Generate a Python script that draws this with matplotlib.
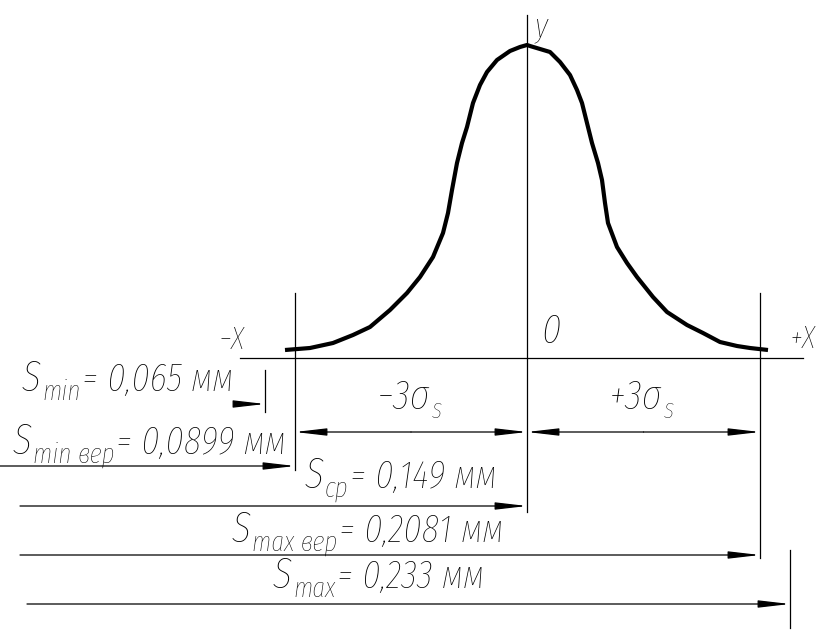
import matplotlib
matplotlib.use("Agg")
import matplotlib.pyplot as plt
from matplotlib import font_manager

# Feed values, mm
s_names = ["min", "min вер", "ср", "max вер", "max"]
s_values = [0.065, 0.0899, 0.149, 0.2081, 0.233]

# Distribution curve (drawing units, y grows downward)
curve_x = [285, 310, 333, 353, 370, 390, 407, 420, 433, 443, 448, 452, 457, 462, 467,
           473, 480, 487, 497, 510, 520, 527, 530, 550, 560, 570, 577, 582, 587, 592,
           598, 602, 605, 608, 617, 627, 637, 653, 667, 687, 703, 720, 737, 750, 768]
curve_y = [350, 348, 343, 335, 327, 310, 293, 277, 257, 233, 213, 190, 163, 143, 127,
           103, 85, 72, 60, 51, 47, 45, 46, 52, 62, 75, 90, 103, 123, 143,
           163, 180, 203, 223, 247, 263, 277, 297, 312, 325, 333, 342, 346, 348, 350]

sigma_labels = ["−3σ", "+3σ"]

# layout in drawing units (the sketch is not to scale)
dim_end_x = [265, 295, 527, 760, 790]
dim_start_x = [237, 0, 20, 20, 27]
dim_y = [404, 466, 506, 555, 604]
text_pos = [(22, 391), (13, 454), (305, 488), (232, 542), (273, 588)]

# narrow light italic font, close to drafting type
avail = {f.name for f in font_manager.fontManager.ttflist}
main_font = next((f for f in ["Fira Sans Extra Condensed", "Roboto Condensed", "Liberation Sans"]
                  if f in avail), "DejaVu Sans")
FONT = dict(family=[main_font, "DejaVu Sans"], style="italic", weight="light", color="black")

fig = plt.figure(figsize=(8.31, 6.31), dpi=100)
ax = fig.add_axes([0, 0, 1, 1])
ax.set_xlim(0, 831)
ax.set_ylim(631, 0)
ax.axis("off")

thin = dict(color="black", lw=0.9)

# axes of the sketch
ax.plot([240, 803], [358, 358], **thin)
ax.plot([527, 527], [15, 512], **thin)

# extension lines
ax.plot([295, 295], [293, 470], **thin)
ax.plot([760, 760], [293, 558], **thin)
ax.plot([790, 790], [550, 628], **thin)
ax.plot([265, 265], [370, 412], **thin)

# the curve
ax.plot(curve_x, curve_y, color="black", lw=3.0, solid_capstyle="butt", solid_joinstyle="round")

arrow_style = "-|>,head_length=1.9,head_width=0.22"


def arrow(x0, x1, y):
    ax.annotate("", xy=(x1, y), xytext=(x0, y),
                arrowprops=dict(arrowstyle=arrow_style, color="black", lw=0.9,
                                shrinkA=0, shrinkB=0, mutation_scale=10))


for x0, x1, y in zip(dim_start_x, dim_end_x, dim_y):
    arrow(x0, x1, y)

# +-3 sigma dimension lines
for a, b in [(295, 527), (527, 760)]:
    mid = (a + b) / 2
    arrow(mid, a, 432)
    arrow(mid, b, 432)

fig.canvas.draw()
renderer = fig.canvas.get_renderer()
inv = ax.transData.inverted()


def right_edge(t):
    bb = t.get_window_extent(renderer)
    return inv.transform((bb.x1, bb.y0))[0]


def label(x, y, main, sub, rest, s_size=31, sub_size=20, rest_size=28, sub_drop=9):
    t = ax.text(x, y, main, fontsize=s_size, va="baseline", ha="left", **FONT)
    xr = right_edge(t)
    t2 = ax.text(xr + 1, y + sub_drop, sub, fontsize=sub_size, va="baseline", ha="left", **FONT)
    xr = right_edge(t2)
    if rest:
        ax.text(xr + 2, y, rest, fontsize=rest_size, va="baseline", ha="left", **FONT)


for name, val, (tx, ty) in zip(s_names, s_values, text_pos):
    num = f"{val:g}".replace(".", ",")
    label(tx, ty, "S", name, f"= {num} мм")

# sigma labels
label(377, 409, sigma_labels[0], "S", "", s_size=30, sub_size=16, sub_drop=9)
label(609, 409, sigma_labels[1], "S", "", s_size=30, sub_size=16, sub_drop=9)

# axis names
ax.text(219, 349, "−X", fontsize=23, va="baseline", **FONT)
ax.text(541, 343, "0", fontsize=30, va="baseline", **FONT)
ax.text(790, 348, "+X", fontsize=23, va="baseline", **FONT)
ax.text(534, 36, "y", fontsize=25, va="baseline", **FONT)

fig.savefig("out.png", dpi=100, facecolor="white")
